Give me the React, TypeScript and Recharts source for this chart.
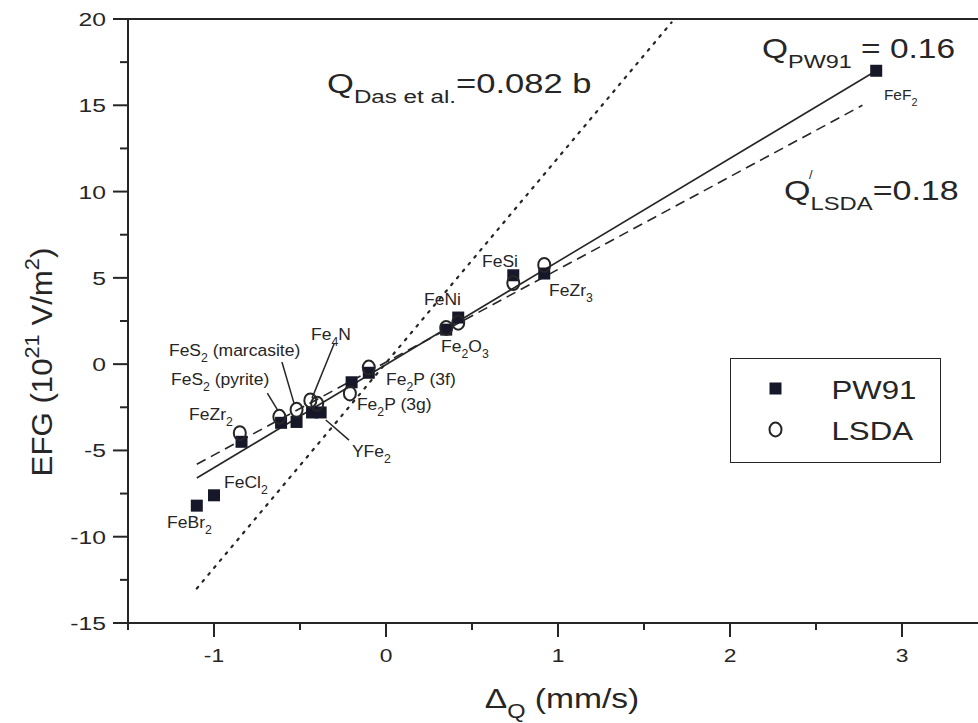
import React from "react"
import { ScatterChart, Scatter, XAxis, YAxis, ReferenceLine, Legend } from "recharts"

const INK = "#262626"
const SQUARE = "#17172a"
const FONT = "'Liberation Sans', Arial, Helvetica, sans-serif"

// EFG (10^21 V/m^2) against quadrupole splitting (mm/s)
const pw91Points = [
  { name: "FeBr2", x: -1.1, y: -8.2 },
  { name: "FeCl2", x: -1.0, y: -7.6 },
  { name: "FeZr2", x: -0.84, y: -4.5 },
  { name: "FeS2 (pyrite)", x: -0.61, y: -3.4 },
  { name: "FeS2 (marcasite)", x: -0.52, y: -3.35 },
  { name: "Fe4N", x: -0.43, y: -2.8 },
  { name: "YFe2", x: -0.38, y: -2.8 },
  { name: "Fe2P (3g)", x: -0.2, y: -1.05 },
  { name: "Fe2P (3f)", x: -0.1, y: -0.5 },
  { name: "Fe2O3", x: 0.35, y: 2.0 },
  { name: "FeNi", x: 0.42, y: 2.7 },
  { name: "FeSi", x: 0.74, y: 5.15 },
  { name: "FeZr3", x: 0.92, y: 5.25 },
  { name: "FeF2", x: 2.85, y: 17.0 },
]

const lsdaPoints = [
  { name: "FeZr2", x: -0.85, y: -4.0 },
  { name: "FeS2 (pyrite)", x: -0.62, y: -3.05 },
  { name: "FeS2 (marcasite)", x: -0.52, y: -2.65 },
  { name: "Fe4N", x: -0.44, y: -2.1 },
  { name: "YFe2", x: -0.4, y: -2.3 },
  { name: "Fe2P (3g)", x: -0.21, y: -1.7 },
  { name: "Fe2P (3f)", x: -0.1, y: -0.2 },
  { name: "Fe2O3", x: 0.35, y: 2.1 },
  { name: "FeNi", x: 0.42, y: 2.4 },
  { name: "FeSi", x: 0.74, y: 4.7 },
  { name: "FeZr3", x: 0.92, y: 5.75 },
]

// fitted lines (end points)
const fitPW91 = [{ x: -1.1, y: -6.6 }, { x: 2.85, y: 17.0 }]
const fitLSDA = [{ x: -1.1, y: -5.8 }, { x: 2.77, y: 15.0 }]
const fitDas = [{ x: -1.1, y: -13.0 }, { x: 1.66, y: 19.8 }]

// compound names, anchored in data units (left end of text baseline)
const pointLabels = [
  { x: 2.895, y: 15.3, text: "FeF_{2}", size: 15 },
  { x: 0.558, y: 5.62, text: "FeSi", size: 17 },
  { x: 0.948, y: 3.94, text: "FeZr_{3}", size: 17 },
  { x: 0.221, y: 3.42, text: "FeNi", size: 17 },
  { x: 0.32, y: 0.7, text: "Fe_{2}O_{3}", size: 17 },
  { x: 0.0, y: -1.22, text: "Fe_{2}P (3f)", size: 17 },
  { x: -0.169, y: -2.67, text: "Fe_{2}P (3g)", size: 17 },
  { x: -0.198, y: -5.39, text: "YFe_{2}", size: 17 },
  { x: -1.262, y: 0.46, text: "FeS_{2} (marcasite)", size: 17 },
  { x: -0.436, y: 1.39, text: "Fe_{4}N", size: 17 },
  { x: -1.25, y: -1.22, text: "FeS_{2} (pyrite)", size: 17 },
  { x: -1.145, y: -3.24, text: "FeZr_{2}", size: 17 },
  { x: -0.942, y: -7.18, text: "FeCl_{2}", size: 17 },
  { x: -1.273, y: -9.5, text: "FeBr_{2}", size: 17 },
]

const quadLabels = [
  { x: -0.343, y: 15.7, text: "Q_{Das et al.}=0.082 b", size: 27, stretch: 1.28 },
  { x: 2.186, y: 17.73, text: "Q_{PW91} = 0.16", size: 27, stretch: 1.24 },
  { x: 2.314, y: 9.5, text: "Q_{LSDA}=0.18", size: 27, stretch: 1.26 },
  { x: 2.46, y: 10.75, text: "/", size: 13, stretch: 1 },
]

const leaders = [
  [{ x: -0.69, y: -1.68 }, { x: -0.63, y: -2.67 }],
  [{ x: -0.605, y: 0.12 }, { x: -0.535, y: -2.26 }],
  [{ x: -0.3, y: 1.22 }, { x: -0.43, y: -1.97 }],
  [{ x: -0.35, y: -3.24 }, { x: -0.215, y: -4.4 }],
]

const legendOrder = ["PW91", "LSDA"]

const xTicks = [-1.5, -1, -0.5, 0, 0.5, 1, 1.5, 2, 2.5, 3, 3.5]
const yTicks = [-15, -12.5, -10, -7.5, -5, -2.5, 0, 2.5, 5, 7.5, 10, 12.5, 15, 17.5, 20]

type Seg = { t: string; mode: "n" | "sub" | "sup" }

function parseRich(s: string): Seg[] {
  const out: Seg[] = []
  let buf = ""
  let i = 0
  while (i < s.length) {
    const c = s[i]
    if ((c === "_" || c === "^") && s[i + 1] === "{") {
      if (buf) out.push({ t: buf, mode: "n" })
      buf = ""
      const end = s.indexOf("}", i)
      out.push({ t: s.slice(i + 2, end), mode: c === "_" ? "sub" : "sup" })
      i = end + 1
    } else {
      buf += c
      i++
    }
  }
  if (buf) out.push({ t: buf, mode: "n" })
  return out
}

function RichText({ x, y, text, size, stretch = 1.2, anchor = "start", rotate = 0 }: any) {
  let level = 0
  const spans = parseRich(text).map((s, i) => {
    const target = s.mode === "sub" ? 0.36 * size : s.mode === "sup" ? -0.42 * size : 0
    const dy = target - level
    level = target
    return (
      <tspan key={i} dy={dy} fontSize={s.mode === "n" ? size : size * 0.7}>
        {s.t}
      </tspan>
    )
  })
  return (
    <text
      transform={`translate(${x},${y}) rotate(${rotate}) scale(${stretch},1)`}
      textAnchor={anchor}
      fontFamily={FONT}
      fontSize={size}
      fill={INK}
      style={{ whiteSpace: "pre" }}
    >
      {spans}
    </text>
  )
}

const fmt = (v: number) => (v < 0 ? "-" + Math.abs(v) : String(v))

const YTick = ({ x, y, payload }: any) => {
  const major = payload.value % 5 === 0
  return (
    <g>
      <line x1={x} x2={x - (major ? 15 : 8)} y1={y} y2={y} stroke={INK} strokeWidth={2} />
      {major && <RichText x={x - 22} y={y + 7} text={fmt(payload.value)} size={19} stretch={1.3} anchor="end" />}
    </g>
  )
}

const XTick = ({ x, y, payload }: any) => {
  const major = Number.isInteger(payload.value)
  return (
    <g>
      <line x1={x} x2={x} y1={y} y2={y + (major ? 14 : 7)} stroke={INK} strokeWidth={2} />
      {major && <RichText x={x} y={y + 39} text={fmt(payload.value)} size={19} anchor="middle" />}
    </g>
  )
}

const Square = ({ cx, cy }: any) => <rect x={cx - 6} y={cy - 6} width={12} height={12} fill={SQUARE} />
const Ring = ({ cx, cy }: any) => (
  <ellipse cx={cx} cy={cy} rx={6} ry={7} fill="none" stroke={INK} strokeWidth={2} />
)
const NoMark = () => <g />
const LabelMark = ({ cx, cy, payload }: any) => (
  <RichText x={cx} y={cy} text={payload.text} size={payload.size} stretch={payload.stretch ?? 1.03} />
)

function LegendBox({ payload }: any) {
  const items = legendOrder
    .map((name) => (payload || []).find((p: any) => p.value === name))
    .filter(Boolean)
  return (
    <div style={{ width: 211, height: 105, border: `1.5px solid ${INK}`, boxSizing: "border-box", background: "#fff" }}>
      <svg width={208} height={102} style={{ display: "block" }}>
        {items.map((p: any, i: number) => {
          const cy = 29.5 + i * 41
          return (
            <g key={p.value}>
              {p.value === "PW91" ? <Square cx={44.5} cy={cy} /> : <Ring cx={44.5} cy={cy} />}
              <RichText x={100.5} y={cy + 10} text={p.value} size={26} />
            </g>
          )
        })}
      </svg>
    </div>
  )
}

export default function App() {
  return (
    <div style={{ position: "absolute", left: 0, top: 0, width: 978, height: 723, overflow: "hidden", background: "#fff" }}>
      <ScatterChart width={1000} height={723} margin={{ top: 19, right: 12, bottom: 0, left: 0 }}>
        <XAxis
          type="number"
          dataKey="x"
          domain={[-1.5, 3.5]}
          ticks={xTicks}
          interval={0}
          height={100}
          tickSize={0}
          tickMargin={0}
          tickLine={false}
          axisLine={{ stroke: INK, strokeWidth: 2 }}
          tick={<XTick />}
          allowDataOverflow
          label={{
            content: ({ viewBox }: any) => (
              <RichText x={viewBox.x + viewBox.width / 2 + 4} y={viewBox.y + 85} text="Δ_{Q} (mm/s)" size={28} anchor="middle" />
            ),
          }}
        />
        <YAxis
          type="number"
          dataKey="y"
          domain={[-15, 20]}
          ticks={yTicks}
          interval={0}
          width={128}
          tickSize={0}
          tickMargin={0}
          tickLine={false}
          axisLine={{ stroke: INK, strokeWidth: 2 }}
          tick={<YTick />}
          allowDataOverflow
          label={{
            content: ({ viewBox }: any) => (
              <RichText x={52} y={viewBox.y + viewBox.height / 2 + 41} text="EFG (10^{21} V/m^{2})" size={30} stretch={1.04} anchor="middle" rotate={-90} />
            ),
          }}
        />
        <ReferenceLine y={20} stroke={INK} strokeWidth={2} />
        {leaders.map((seg, i) => (
          <ReferenceLine key={i} segment={seg} stroke={INK} strokeWidth={1.5} />
        ))}
        <Scatter data={fitDas} line={{ stroke: INK, strokeWidth: 2.2, strokeDasharray: "2 7", strokeLinecap: "round" }} shape={<NoMark />} legendType="none" isAnimationActive={false} />
        <Scatter data={fitLSDA} line={{ stroke: INK, strokeWidth: 1.6, strokeDasharray: "10 6" }} shape={<NoMark />} legendType="none" isAnimationActive={false} />
        <Scatter data={fitPW91} line={{ stroke: INK, strokeWidth: 1.6 }} shape={<NoMark />} legendType="none" isAnimationActive={false} />
        <Scatter name="PW91" data={pw91Points} shape={<Square />} fill={SQUARE} isAnimationActive={false} />
        <Scatter name="LSDA" data={lsdaPoints} shape={<Ring />} fill="none" isAnimationActive={false} />
        <Scatter data={pointLabels} shape={<LabelMark />} legendType="none" isAnimationActive={false} />
        <Scatter data={quadLabels} shape={<LabelMark />} legendType="none" isAnimationActive={false} />
        <Legend
          content={<LegendBox />}
          layout="vertical"
          align="center"
          verticalAlign="middle"
          width={211}
          height={105}
          wrapperStyle={{ left: 730, top: 358, width: 211, height: 105 }}
        />
      </ScatterChart>
    </div>
  )
}
